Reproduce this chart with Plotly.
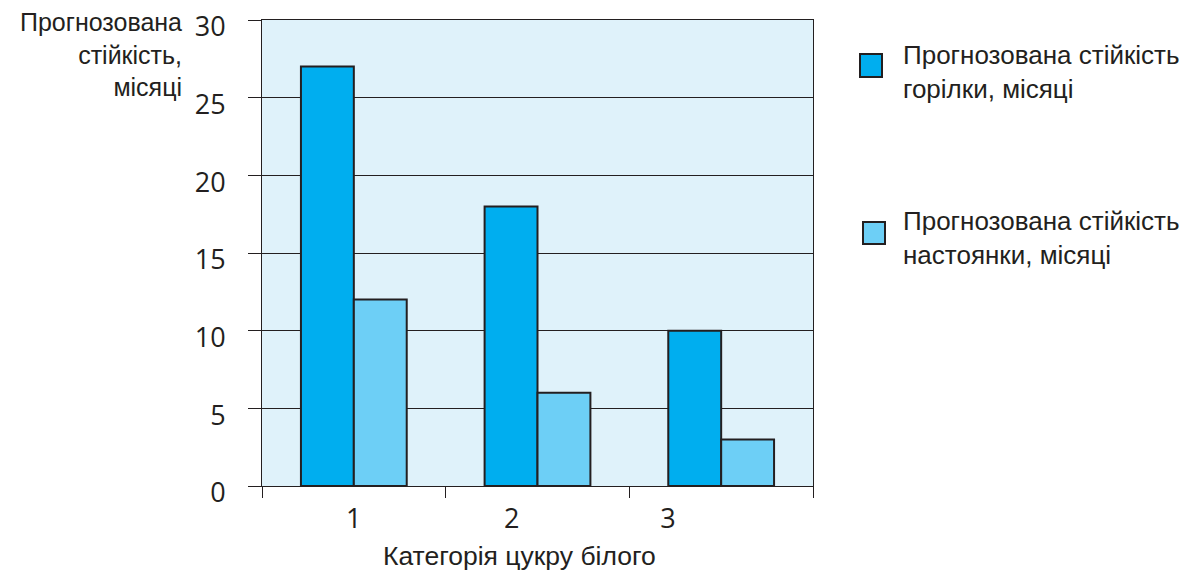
import plotly.graph_objects as go

categories = ["1", "2", "3"]
vodka = [27, 18, 10]
tincture = [12, 6, 3]
series_names = ["Прогнозована стійкість<br>горілки, місяці",
                "Прогнозована стійкість<br>настоянки, місяці"]
y_title = "Прогнозована<br>стійкість,<br>місяці"
x_title = "Категорія цукру білого"
label_positions = [0, 0.86, 1.71]

W, H = 1187, 570
L, R, T, B = 262, 374, 20, 84
PW, PH = W - L - R, H - T - B

def px(x):
    return (x - L) / PW

def py(y):
    return (H - B - y) / PH

LINE = "#231f20"
DARK = "#00aeef"
LIGHT = "#6dcff6"
TXT = "Liberation Sans, Arial, sans-serif"
NUM = "Open Sans, sans-serif"

fig = go.Figure()
fig.add_trace(go.Bar(x=categories, y=vodka, name="a", marker=dict(color=DARK, line=dict(color=LINE, width=2)), showlegend=False))
fig.add_trace(go.Bar(x=categories, y=tincture, name="b", marker=dict(color=LIGHT, line=dict(color=LINE, width=2)), showlegend=False))
fig.add_trace(go.Scatter(x=label_positions, y=[None] * 3, xaxis="x2", showlegend=False, hoverinfo="skip"))

fig.update_layout(
    width=W, height=H,
    margin=dict(l=L, r=R, t=T, b=B, autoexpand=False),
    paper_bgcolor="white",
    plot_bgcolor="#dff2fa",
    barmode="group",
    bargap=0.424,
    bargroupgap=0,
    xaxis=dict(type="category", range=[-0.5, 2.5], tickson="boundaries", ticks="outside",
               ticklen=11, tickwidth=1, tickcolor=LINE, showticklabels=False, automargin=False,
               showline=True, linecolor=LINE, linewidth=1, mirror=True, showgrid=False, zeroline=False),
    xaxis2=dict(overlaying="x", anchor="y", side="bottom", range=[-0.5, 2.5], automargin=False,
                tickmode="array", tickvals=label_positions, ticktext=categories,
                ticks="", showline=False, showgrid=False, zeroline=False,
                ticklabelstandoff=14, tickfont=dict(family=NUM, size=27, color=LINE)),
    yaxis=dict(range=[0, 30], dtick=5, tick0=0, ticks="outside", ticklen=13, tickwidth=1,
               tickcolor=LINE, showline=True, linecolor=LINE, linewidth=1, mirror=True,
               showgrid=True, gridcolor=LINE, gridwidth=1, zeroline=False, automargin=False,
               ticklabelstandoff=17, ticklabelshift=7,
               tickfont=dict(family=NUM, size=27, color=LINE)),
    font=dict(family=TXT, color=LINE),
)

annotations = [
    dict(text=y_title, x=px(184), y=py(6), xref="paper", yref="paper", xanchor="right",
         yanchor="top", align="right", showarrow=False, font=dict(family=TXT, size=25, color=LINE)),
    dict(text=x_title, x=px(519), y=py(556), xref="paper", yref="paper", xanchor="center",
         yanchor="middle", showarrow=False, font=dict(family=TXT, size=26.5, color=LINE)),
    dict(text=series_names[0], x=px(901), y=py(72), xref="paper", yref="paper", xanchor="left",
         yanchor="middle", align="left", showarrow=False, font=dict(family=TXT, size=26, color=LINE)),
    dict(text=series_names[1], x=px(901), y=py(238), xref="paper", yref="paper", xanchor="left",
         yanchor="middle", align="left", showarrow=False, font=dict(family=TXT, size=26, color=LINE)),
]
fig.update_layout(annotations=annotations)

shapes = [
    dict(type="rect", xref="paper", yref="paper", x0=px(860), x1=px(882), y0=py(77), y1=py(54),
         fillcolor=DARK, line=dict(color=LINE, width=2)),
    dict(type="rect", xref="paper", yref="paper", x0=px(863), x1=px(885), y0=py(244), y1=py(222),
         fillcolor=LIGHT, line=dict(color=LINE, width=2)),
]
fig.update_layout(shapes=shapes)

fig.write_html("out.html", config={"displayModeBar": False},
               post_script="document.body.style.margin='0px';document.body.style.overflow='hidden';")
